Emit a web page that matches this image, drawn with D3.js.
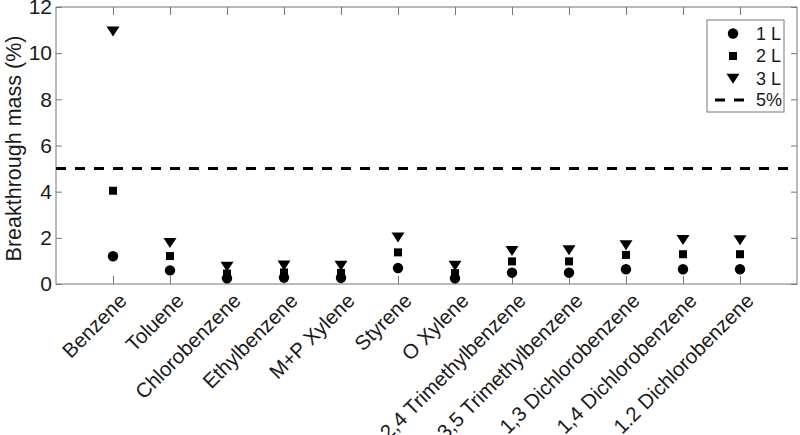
<!DOCTYPE html>
<html><head><meta charset="utf-8">
<script src="https://cdn.jsdelivr.net/npm/d3@7"></script>
<style>body{margin:0;background:#fff}svg{display:block;font-family:"Liberation Sans",Arial,sans-serif}</style>
</head><body><svg id="c" width="800" height="435"></svg>
<script>
const categories=["Benzene","Toluene","Chlorobenzene","Ethylbenzene","M+P Xylene","Styrene","O Xylene","2,4 Trimethylbenzene","3,5 Trimethylbenzene","1,3 Dichlorobenzene","1,4 Dichlorobenzene","1.2 Dichlorobenzene"];
const series1L=[1.2,0.59,0.25,0.28,0.27,0.69,0.25,0.49,0.49,0.64,0.64,0.64];
const series2L=[4.04,1.21,0.45,0.5,0.48,1.37,0.47,0.98,0.98,1.26,1.29,1.29];
const series3L=[10.95,1.79,0.76,0.81,0.8,2.02,0.8,1.44,1.47,1.69,1.91,1.9];
const threshold=5;
const yTicks=[0,2,4,6,8,10,12];
const legendLabels=["1 L","2 L","3 L","5%"];

const svg=d3.select("#c");
const L=56,R=797,T=7,B=284;
const x=d3.scaleLinear().domain([0,categories.length+1]).range([L,R]);
const y=d3.scaleLinear().domain([0,12]).range([B,T]);
const axisCol="#777";
const txtCol="#1a1a1a";

svg.append("rect").attr("x",L).attr("y",T).attr("width",R-L).attr("height",B-T).attr("fill","none").attr("stroke",axisCol).attr("stroke-width",1);

const xt=categories.map((c,i)=>i+1);
const gxb=svg.append("g").attr("transform",`translate(0,${B})`).call(d3.axisBottom(x).tickValues(xt).tickSizeInner(-8).tickSizeOuter(0).tickFormat(""));
const gxt=svg.append("g").attr("transform",`translate(0,${T})`).call(d3.axisTop(x).tickValues(xt).tickSizeInner(-8).tickSizeOuter(0).tickFormat(""));
const gyl=svg.append("g").attr("transform",`translate(${L},0)`).call(d3.axisLeft(y).tickValues(yTicks).tickSizeInner(-6).tickSizeOuter(0).tickPadding(10));
const gyr=svg.append("g").attr("transform",`translate(${R},0)`).call(d3.axisRight(y).tickValues(yTicks).tickSizeInner(-6).tickSizeOuter(0).tickFormat(""));
[gxb,gxt,gyl,gyr].forEach(g=>{g.select(".domain").remove();g.selectAll(".tick line").attr("stroke",axisCol);});
gyl.selectAll(".tick text").attr("font-size",21).attr("fill",txtCol).attr("font-family","Liberation Sans, Arial, sans-serif").attr("x",-4);

svg.append("g").selectAll("text").data(categories).join("text")
 .attr("transform",(d,i)=>`translate(${x(i+1)+15},${B+18}) rotate(-45)`)
 .attr("text-anchor","end").attr("font-size",20.5).attr("fill",txtCol).text(d=>d);

svg.append("text").attr("transform",`translate(21,${(T+B)/2+3}) rotate(-90)`).attr("text-anchor","middle").attr("font-size",21.5).attr("fill",txtCol).text("Breakthrough mass (%)");

svg.append("line").attr("x1",L).attr("x2",R).attr("y1",y(threshold)).attr("y2",y(threshold)).attr("stroke","#000").attr("stroke-width",3).attr("stroke-dasharray","10,9");

const circ=d3.symbol().type(d3.symbolCircle).size(85);
const sq=d3.symbol().type(d3.symbolSquare).size(64);
const triPath="M-6.5,-4.8L6.5,-4.8L0,5.2Z";

const g=svg.append("g");
g.selectAll(".s1").data(series1L).join("path").attr("d",circ).attr("transform",(d,i)=>`translate(${x(i+1)},${y(d)})`);
g.selectAll(".s2").data(series2L).join("path").attr("d",sq).attr("transform",(d,i)=>`translate(${x(i+1)},${y(d)})`);
g.selectAll(".s3").data(series3L).join("path").attr("d",triPath).attr("transform",(d,i)=>`translate(${x(i+1)},${y(d)})`);

const lg=svg.append("g");
lg.append("rect").attr("x",707).attr("y",20).attr("width",77).attr("height",92).attr("fill","#fff").attr("stroke",axisCol);
const ly=[33.5,56,78.5,100];
const shapes=[circ(),sq(),triPath];
legendLabels.forEach((t,i)=>{
 if(i<3) lg.append("path").attr("d",shapes[i]).attr("transform",`translate(733,${ly[i]})`);
 else lg.append("line").attr("x1",715).attr("x2",744).attr("y1",ly[i]).attr("y2",ly[i]).attr("stroke","#000").attr("stroke-width",3).attr("stroke-dasharray","10,9");
 lg.append("text").attr("x",756).attr("y",ly[i]).attr("dy","0.36em").attr("font-size",18).attr("fill",txtCol).text(t);
});
</script></body></html>
